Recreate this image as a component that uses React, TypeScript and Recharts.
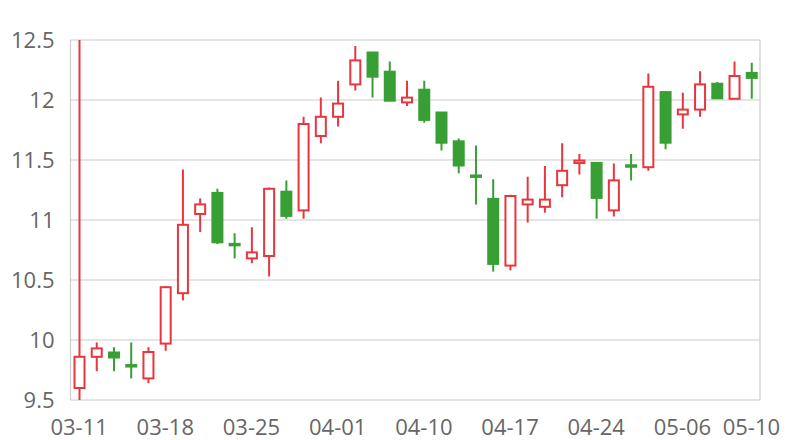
import React from "react";
import { ComposedChart, Bar, XAxis, YAxis, CartesianGrid } from "recharts";

const dates = [
  "03-11", "03-12", "03-13", "03-14", "03-15",
  "03-18", "03-19", "03-20", "03-21", "03-22",
  "03-25", "03-26", "03-27", "03-28", "03-29",
  "04-01", "04-02", "04-03", "04-08", "04-09",
  "04-10", "04-11", "04-12", "04-15", "04-16",
  "04-17", "04-18", "04-19", "04-22", "04-23",
  "04-24", "04-25", "04-26", "04-29", "04-30",
  "05-06", "05-07", "05-08", "05-09", "05-10",
];
const opens = [
  9.6, 9.86, 9.9, 9.79, 9.68, 9.97, 10.39, 11.05, 11.23, 10.8,
  10.68, 10.7, 11.24, 11.08, 11.7, 11.86, 12.13, 12.4, 12.24, 11.98,
  12.09, 11.9, 11.66, 11.37, 11.18, 10.62, 11.13, 11.11, 11.29, 11.48,
  11.48, 11.08, 11.46, 11.44, 12.07, 11.88, 11.92, 12.14, 12.01, 12.23,
];
const closes = [
  9.86, 9.93, 9.85, 9.78, 9.9, 10.44, 10.96, 11.13, 10.81, 10.79,
  10.73, 11.26, 11.03, 11.8, 11.86, 11.97, 12.33, 12.19, 11.99, 12.02,
  11.83, 11.64, 11.45, 11.36, 10.63, 11.2, 11.17, 11.17, 11.41, 11.49,
  11.18, 11.33, 11.44, 12.11, 11.64, 11.92, 12.13, 12.01, 12.2, 12.18,
];
const highs = [
  12.5, 9.98, 9.94, 9.98, 9.94, 10.45, 11.42, 11.18, 11.26, 10.89,
  10.94, 11.27, 11.33, 11.86, 12.02, 12.16, 12.45, 12.4, 12.32, 12.16,
  12.16, 11.9, 11.68, 11.62, 11.34, 11.21, 11.36, 11.45, 11.64, 11.55,
  11.48, 11.47, 11.55, 12.22, 12.07, 12.06, 12.24, 12.15, 12.32, 12.31,
];
const lows = [
  9.5, 9.74, 9.74, 9.68, 9.64, 9.91, 10.33, 10.9, 10.8, 10.68,
  10.64, 10.53, 11.01, 11.01, 11.64, 11.78, 12.08, 12.02, 11.99, 11.95,
  11.81, 11.58, 11.39, 11.13, 10.57, 10.58, 10.98, 11.06, 11.19, 11.38,
  11.01, 11.03, 11.33, 11.41, 11.59, 11.76, 11.86, 12.01, 12.01, 12.01,
];
const xTicks = ["03-11", "03-18", "03-25", "04-01", "04-10", "04-17", "04-24", "05-06", "05-10"];
const yTicks = [9.5, 10, 10.5, 11, 11.5, 12, 12.5];

const RED = "#e8363e";
const GREEN = "#389f35";

const data = dates.map((d, i) => ({
  date: d,
  open: opens[i],
  close: closes[i],
  high: highs[i],
  low: lows[i],
  range: [lows[i], highs[i]],
}));

const Candle = (props: any) => {
  const { x, y, width, height, payload } = props;
  if (!payload) return null;
  const { open, close, high, low } = payload;
  const up = close >= open;
  const color = up ? RED : GREEN;
  const h = Math.abs(height);
  const ratio = high - low > 0 ? h / (high - low) : 0;
  const yOf = (v: number) => y + (high - v) * ratio;
  let top = yOf(Math.max(open, close));
  let bot = yOf(Math.min(open, close));
  if (bot - top < 2.5) {
    const mid = (top + bot) / 2;
    top = mid - 1.25;
    bot = mid + 1.25;
  }
  const cx = x + width / 2;
  return (
    <g>
      <line x1={cx} x2={cx} y1={y} y2={y + h} stroke={color} strokeWidth={2} />
      {up ? (
        <rect x={x + 1} y={top} width={width - 2} height={Math.max(bot - top, 1)} fill="#fff" stroke={color} strokeWidth={2} />
      ) : (
        <rect x={x} y={top - 0.5} width={width} height={bot - top + 1} fill={color} stroke="none" />
      )}
    </g>
  );
};

const tickStyle = { fill: "#666", fontSize: 22, fontFamily: "Open Sans" };

export default function App() {
  return (
    <div style={{ position: "absolute", left: 0, top: 0, background: "#fff" }}>
      <ComposedChart
        width={800}
        height={440}
        data={data}
        margin={{ top: 40, right: 40, bottom: 0, left: 0 }}
        barSize={12}
      >
        <CartesianGrid
          stroke="#cccccc"
          strokeWidth={1.2}
          verticalCoordinatesGenerator={({ offset }: any) => [offset.left, offset.left + offset.width]}
        />
        <XAxis
          dataKey="date"
          ticks={xTicks}
          interval={0}
          axisLine={false}
          tickLine={false}
          tickSize={0}
          tickMargin={19}
          height={40}
          tick={tickStyle}
        />
        <YAxis
          domain={[9.5, 12.5]}
          ticks={yTicks}
          allowDataOverflow
          axisLine={false}
          tickLine={false}
          tickSize={0}
          tickMargin={16}
          width={70.5}
          tick={tickStyle}
        />
        <Bar dataKey="range" shape={<Candle />} isAnimationActive={false} />
      </ComposedChart>
    </div>
  );
}
